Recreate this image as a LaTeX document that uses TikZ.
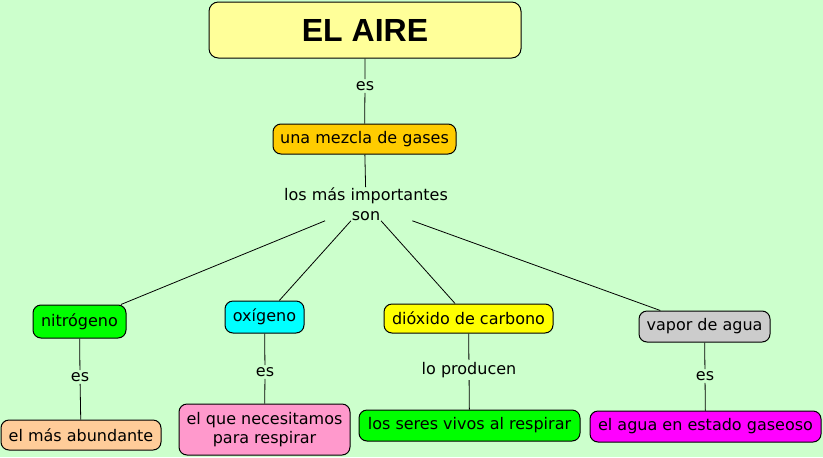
\documentclass[tikz,border=0pt]{standalone}
\usepackage{fontspec}
\setmainfont{DejaVu Sans}
\newfontfamily\titlefont{Liberation Sans}

\definecolor{fondo}{RGB}{204,255,204}
\definecolor{amarilloclaro}{RGB}{255,255,153}
\definecolor{naranja}{RGB}{255,204,0}
\definecolor{verde}{RGB}{0,255,0}
\definecolor{cian}{RGB}{0,255,255}
\definecolor{amarillo}{RGB}{255,255,0}
\definecolor{gris}{RGB}{204,204,204}
\definecolor{melocoton}{RGB}{255,204,153}
\definecolor{rosa}{RGB}{255,153,204}
\definecolor{magenta}{RGB}{255,0,255}

\begin{document}
\begin{tikzpicture}[x=0.75pt,y=-0.75pt,
  concepto/.style={draw,line width=0.75pt,rounded corners=6pt,inner sep=2pt,
    align=center,font=\fontsize{12}{14.5}\selectfont},
  enlace/.style={inner sep=1.5pt,align=center,font=\fontsize{12}{15}\selectfont},
  linea/.style={line width=0.6pt}]
\useasboundingbox[fill=fondo] (0,0) rectangle (823,457);

\node[concepto,fill=amarilloclaro,rounded corners=7pt,minimum width=234pt,minimum height=42pt,
  font=\titlefont\bfseries\fontsize{24}{28}\selectfont] (aire) at (365,30) {EL AIRE};
\node[enlace] (es0) at (365,86) {es};
\node[concepto,fill=naranja,minimum width=137.25pt,minimum height=22.5pt] (mezcla) at (364.5,139) {una mezcla de gases};
\node[enlace,inner sep=0pt] (importantes) at (366,204) {los más importantes\\son};

\node[concepto,fill=verde,minimum width=69.75pt,minimum height=24.75pt] (nitrogeno) at (79.5,321.5) {nitrógeno};
\node[concepto,fill=cian,minimum width=59.25pt,minimum height=24pt] (oxigeno) at (264.5,317) {oxígeno};
\node[concepto,fill=amarillo,minimum width=126.75pt,minimum height=21.75pt] (dioxido) at (468.5,318.5) {dióxido de carbono};
\node[concepto,fill=gris,minimum width=98.25pt,minimum height=23.25pt] (vapor) at (704.5,326.5) {vapor de agua};

\node[enlace] (es1) at (80,377) {es};
\node[enlace] (es2) at (265,372) {es};
\node[enlace] (producen) at (469,370) {lo producen};
\node[enlace] (es3) at (705,376) {es};

\node[concepto,fill=melocoton,minimum width=120pt,minimum height=22.5pt] (abundante) at (81,435) {el más abundante};
\node[concepto,fill=rosa,minimum width=128.25pt,minimum height=38.25pt] (necesitamos) at (264.5,429.5) {el que necesitamos\\para respirar};
\node[concepto,fill=verde,minimum width=165.75pt,minimum height=23.25pt] (seres) at (469.5,425.5) {los seres vivos al respirar};
\node[concepto,fill=magenta,minimum width=173.25pt,minimum height=23.25pt] (gaseoso) at (705.5,426.5) {el agua en estado gaseoso};

% conexiones
\draw[linea] (aire) -- (es0) -- (mezcla);
\draw[linea] (mezcla) -- (importantes);
\draw[linea] (importantes) -- (nitrogeno);
\draw[linea] (importantes) -- (oxigeno);
\draw[linea] (importantes) -- (dioxido);
\draw[linea] (importantes) -- (vapor);
\draw[linea] (nitrogeno) -- (es1) -- (abundante);
\draw[linea] (oxigeno) -- (es2) -- (necesitamos);
\draw[linea] (dioxido) -- (producen) -- (seres);
\draw[linea] (vapor) -- (es3) -- (gaseoso);
\end{tikzpicture}
\end{document}
